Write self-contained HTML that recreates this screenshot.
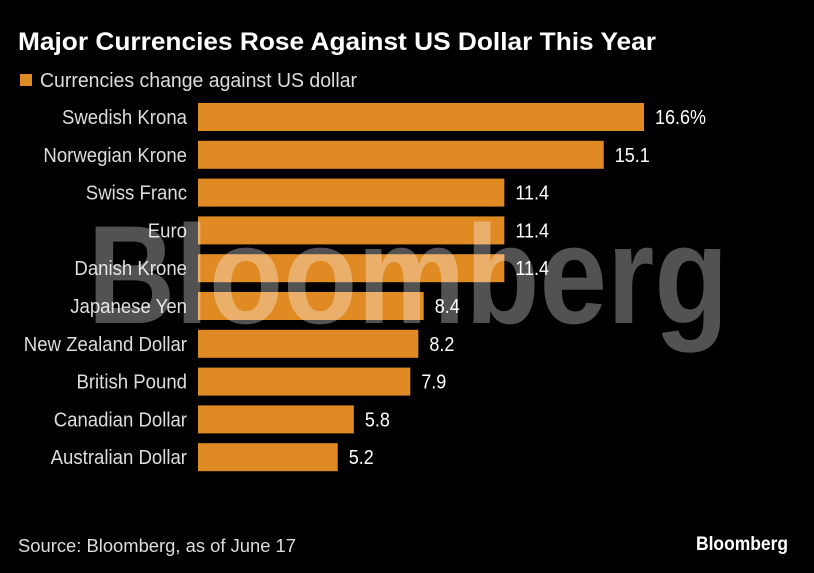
<!DOCTYPE html>
<html><head><meta charset="utf-8"><style>
html,body{margin:0;padding:0;background:#000;}
svg{display:block;font-family:"Liberation Sans",sans-serif;}
</style></head><body>
<svg id="chart" width="814" height="573" viewBox="0 0 814 573">
<rect width="814" height="573" fill="#000"/>
<text x="18" y="50" fill="#fff" font-weight="bold" font-size="25" textLength="638" lengthAdjust="spacingAndGlyphs">Major Currencies Rose Against US Dollar This Year</text>
<rect x="20" y="74" width="12" height="12" fill="#e08a24"/>
<text x="40" y="87" fill="#ddd" font-size="20" textLength="317" lengthAdjust="spacingAndGlyphs">Currencies change against US dollar</text>
<g id="bars"></g>
<text x="408" y="323" fill="#fff" fill-opacity="0.32" font-weight="bold" font-size="140" text-anchor="middle" textLength="641" lengthAdjust="spacingAndGlyphs">Bloomberg</text>
<text x="18" y="552" fill="#ddd" font-size="18" textLength="278" lengthAdjust="spacingAndGlyphs">Source: Bloomberg, as of June 17</text>
<text x="788" y="550" fill="#fff" font-weight="bold" font-size="19" text-anchor="end" textLength="92" lengthAdjust="spacingAndGlyphs">Bloomberg</text>
</svg>
<script>
const categories=["Swedish Krona","Norwegian Krone","Swiss Franc","Euro","Danish Krone","Japanese Yen","New Zealand Dollar","British Pound","Canadian Dollar","Australian Dollar"];
const values=[16.6,15.1,11.4,11.4,11.4,8.4,8.2,7.9,5.8,5.2];
const valueLabels=["16.6%","15.1","11.4","11.4","11.4","8.4","8.2","7.9","5.8","5.2"];
const ns="http://www.w3.org/2000/svg";
const x0=198, pxPerUnit=26.87;
function xScale(v){return x0+v*pxPerUnit;}
function yCenter(i){return 117+i*37.8;}
const g=document.getElementById('bars');
categories.forEach((c,i)=>{
  const yc=yCenter(i);
  const r=document.createElementNS(ns,'rect');
  r.setAttribute('x',x0);r.setAttribute('y',yc-14);
  r.setAttribute('width',xScale(values[i])-x0);r.setAttribute('height',28);
  r.setAttribute('fill','#e08a24');
  
  
  g.appendChild(r);
  const t=document.createElementNS(ns,'text');
  t.setAttribute('transform','translate(187,'+(yc+7)+') scale(0.93,1)');
  t.setAttribute('text-anchor','end');t.setAttribute('fill','#ddd');t.setAttribute('font-size','20');
  t.textContent=c;
  
  
  g.appendChild(t);
  const v=document.createElementNS(ns,'text');
  v.setAttribute('transform','translate('+(xScale(values[i])+11)+','+(yc+7)+') scale(0.9,1)');
  v.setAttribute('fill','#fff');v.setAttribute('font-size','20');
  v.textContent=valueLabels[i];
  
  
  g.appendChild(v);
});
</script>
</body></html>
